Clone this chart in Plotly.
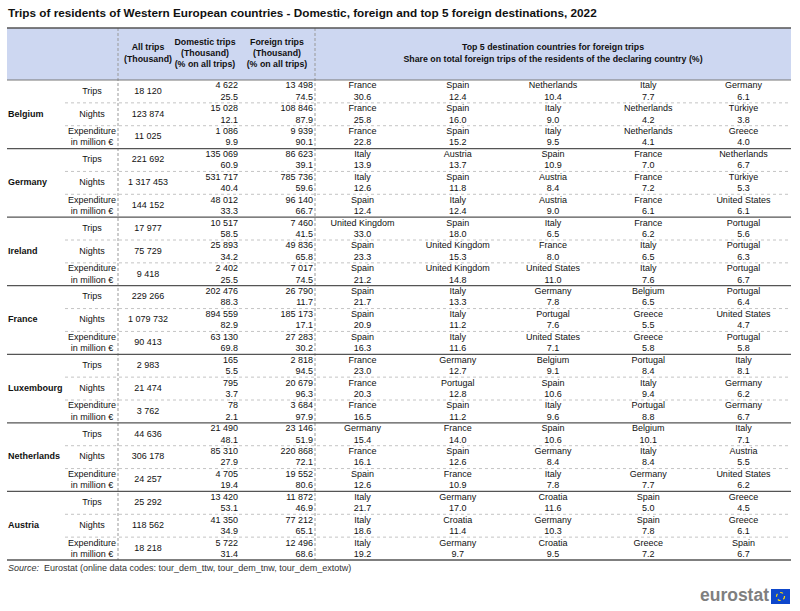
import plotly.graph_objects as go

# ---------------- data ----------------
countries = ["Belgium", "Germany", "Ireland", "France", "Luxembourg", "Netherlands", "Austria"]
indicators = ["Trips", "Nights", "Expenditure<br>in million €"]

all_trips = [
    18120, 123874, 11025,
    221692, 1317453, 144152,
    17977, 75729, 9418,
    229266, 1079732, 90413,
    2983, 21474, 3762,
    44636, 306178, 24257,
    25292, 118562, 18218,
]
domestic_thousand = [
    4622, 15028, 1086,
    135069, 531717, 48012,
    10517, 25893, 2402,
    202476, 894559, 63130,
    165, 795, 78,
    21490, 85310, 4705,
    13420, 41350, 5722,
]
domestic_pct = [
    25.5, 12.1, 9.9,
    60.9, 40.4, 33.3,
    58.5, 34.2, 25.5,
    88.3, 82.9, 69.8,
    5.5, 3.7, 2.1,
    48.1, 27.9, 19.4,
    53.1, 34.9, 31.4,
]
foreign_thousand = [
    13498, 108846, 9939,
    86623, 785736, 96140,
    7460, 49836, 7017,
    26790, 185173, 27283,
    2818, 20679, 3684,
    23146, 220868, 19552,
    11872, 77212, 12496,
]
foreign_pct = [
    74.5, 87.9, 90.1,
    39.1, 59.6, 66.7,
    41.5, 65.8, 74.5,
    11.7, 17.1, 30.2,
    94.5, 96.3, 97.9,
    51.9, 72.1, 80.6,
    46.9, 65.1, 68.6,
]
dest_names = [
    ["France", "Spain", "Netherlands", "Italy", "Germany"],
    ["France", "Spain", "Italy", "Netherlands", "Türkiye"],
    ["France", "Spain", "Italy", "Netherlands", "Greece"],
    ["Italy", "Austria", "Spain", "France", "Netherlands"],
    ["Italy", "Spain", "Austria", "France", "Türkiye"],
    ["Spain", "Italy", "Austria", "France", "United States"],
    ["United Kingdom", "Spain", "Italy", "France", "Portugal"],
    ["Spain", "United Kingdom", "France", "Italy", "Portugal"],
    ["Spain", "United Kingdom", "United States", "Italy", "Portugal"],
    ["Spain", "Italy", "Germany", "Belgium", "Portugal"],
    ["Spain", "Italy", "Portugal", "Greece", "United States"],
    ["Spain", "Italy", "United States", "Greece", "Portugal"],
    ["France", "Germany", "Belgium", "Portugal", "Italy"],
    ["France", "Portugal", "Spain", "Italy", "Germany"],
    ["France", "Spain", "Italy", "Portugal", "Germany"],
    ["Germany", "France", "Spain", "Belgium", "Italy"],
    ["France", "Spain", "Germany", "Italy", "Austria"],
    ["Spain", "France", "Italy", "Germany", "United States"],
    ["Italy", "Germany", "Croatia", "Spain", "Greece"],
    ["Italy", "Croatia", "Germany", "Spain", "Greece"],
    ["Italy", "Germany", "Croatia", "Greece", "Spain"],
]
dest_shares = [
    [30.6, 12.4, 10.4, 7.7, 6.1],
    [25.8, 16.0, 9.0, 4.2, 3.8],
    [22.8, 15.2, 9.5, 4.1, 4.0],
    [13.9, 13.7, 10.9, 7.0, 6.7],
    [12.6, 11.8, 8.4, 7.2, 5.3],
    [12.4, 12.4, 9.0, 6.1, 6.1],
    [33.0, 18.0, 6.5, 6.2, 5.6],
    [23.3, 15.3, 8.0, 6.5, 6.3],
    [21.2, 14.8, 11.0, 7.6, 6.7],
    [21.7, 13.3, 7.8, 6.5, 6.4],
    [20.9, 11.2, 7.6, 5.5, 4.7],
    [16.3, 11.6, 7.1, 5.8, 5.8],
    [23.0, 12.7, 9.1, 8.4, 8.1],
    [20.3, 12.8, 10.6, 9.4, 6.2],
    [16.5, 11.2, 9.6, 8.8, 6.7],
    [15.4, 14.0, 10.6, 10.1, 7.1],
    [16.1, 12.6, 8.4, 8.4, 5.5],
    [12.6, 10.9, 7.8, 7.7, 6.2],
    [21.7, 17.0, 11.6, 5.0, 4.5],
    [18.6, 11.4, 10.3, 7.8, 6.1],
    [19.2, 9.7, 9.5, 7.2, 6.7],
]

title = "Trips of residents of Western European countries - Domestic, foreign and top 5 foreign destinations, 2022"
source_note = "<i>Source:</i>  Eurostat (online data codes: tour_dem_ttw, tour_dem_tnw, tour_dem_extotw)"

# ---------------- layout constants ----------------
W, H = 800, 611
FONT = "Liberation Sans, Arial, sans-serif"
TXT = "#111111"
FS = 9
X_L, X_R = 7, 791
HEAD_TOP, HEAD_BOT = 28, 80
ROW_H = (560 - HEAD_BOT) / 21.0
X_COUNTRY = 8
X_IND = 92
X_ALL = 148
X_DOM_R = 238
X_FOR_R = 313
X_DASH1, X_DASH2 = 118, 315
DEST_X = [X_DASH2 + (X_R - X_DASH2) / 5.0 * (k + 0.5) for k in range(5)]


def fmt_int(v):
    return f"{v:,}".replace(",", " ")


def fmt_pct(v):
    return f"{v:.1f}"


n_rows = len(all_trips)
row_top = [HEAD_BOT + i * ROW_H for i in range(n_rows)]
y_mid = [t + ROW_H / 2 for t in row_top]
y_l1 = [t + 6.2 for t in row_top]
y_l2 = [t + 17.4 for t in row_top]

fig = go.Figure()


def add_text(xs, ys, texts, pos, size=FS, color=TXT, bold=False):
    fig.add_trace(go.Scatter(
        x=xs, y=ys, text=[f"<b>{t}</b>" if bold else t for t in texts],
        mode="text", textposition=pos, hoverinfo="skip", showlegend=False,
        textfont=dict(family=FONT, size=size, color=color),
    ))


# header background
fig.add_shape(type="rect", x0=X_L, x1=X_R, y0=HEAD_TOP, y1=HEAD_BOT,
              fillcolor="#cdd7f1", line=dict(width=0), layer="below")

# header texts
HFS = 8.8
add_text([X_ALL, X_ALL], [48, 60], ["All trips", "(Thousand)"], "middle center", size=HFS, bold=True)
hx_dom = 205
hx_for = 277
add_text([hx_dom] * 3, [43, 54, 65], ["Domestic trips", "(Thousand)", "(% on all trips)"], "middle center", size=HFS, bold=True)
add_text([hx_for] * 3, [43, 54, 65], ["Foreign trips", "(Thousand)", "(% on all trips)"], "middle center", size=HFS, bold=True)
hx_dest = (X_DASH2 + X_R) / 2
add_text([hx_dest, hx_dest], [48, 60],
         ["Top 5 destination countries for foreign trips",
          "Share on total foreign trips of the residents of the declaring country (%)"],
         "middle center", size=HFS, bold=True)

# country labels
cy = [HEAD_BOT + (3 * k + 1.5) * ROW_H for k in range(len(countries))]
add_text([X_COUNTRY] * len(countries), cy, countries, "middle right", bold=True)

# indicator labels
ind_single_y, ind_single_t = [], []
ind_two_y1, ind_two_y2 = [], []
for i in range(n_rows):
    lab = indicators[i % 3]
    if "<br>" in lab:
        ind_two_y1.append(y_l1[i])
        ind_two_y2.append(y_l2[i])
    else:
        ind_single_y.append(y_mid[i])
        ind_single_t.append(lab)
add_text([X_IND] * len(ind_single_y), ind_single_y, ind_single_t, "middle center")
l1, l2 = indicators[2].split("<br>")
add_text([X_IND] * len(ind_two_y1), ind_two_y1, [l1] * len(ind_two_y1), "middle center")
add_text([X_IND] * len(ind_two_y2), ind_two_y2, [l2] * len(ind_two_y2), "middle center")

# all trips
add_text([X_ALL] * n_rows, y_mid, [fmt_int(v) for v in all_trips], "middle center")
# domestic
add_text([X_DOM_R] * n_rows, y_l1, [fmt_int(v) for v in domestic_thousand], "middle left")
add_text([X_DOM_R] * n_rows, y_l2, [fmt_pct(v) for v in domestic_pct], "middle left")
# foreign
add_text([X_FOR_R] * n_rows, y_l1, [fmt_int(v) for v in foreign_thousand], "middle left")
add_text([X_FOR_R] * n_rows, y_l2, [fmt_pct(v) for v in foreign_pct], "middle left")
# destinations
for k in range(5):
    add_text([DEST_X[k]] * n_rows, y_l1, [dest_names[i][k] for i in range(n_rows)], "middle center")
    add_text([DEST_X[k]] * n_rows, y_l2, [fmt_pct(dest_shares[i][k]) for i in range(n_rows)], "middle center")

# lines
for i in range(n_rows):
    if i % 3 != 0:
        fig.add_shape(type="line", x0=65, x1=X_R, y0=row_top[i], y1=row_top[i],
                      line=dict(color="#c4c4c4", width=1, dash="dot"))
for xd in (X_DASH1, X_DASH2):
    fig.add_shape(type="line", x0=xd, x1=xd, y0=HEAD_TOP, y1=560,
                  line=dict(color="#999999", width=1, dash="3px,2px"))
for k in range(1, len(countries)):
    yy = HEAD_BOT + 3 * k * ROW_H
    fig.add_shape(type="line", x0=X_L, x1=X_R, y0=yy, y1=yy, line=dict(color="#555555", width=1.3))
fig.add_shape(type="line", x0=X_L, x1=X_R, y0=HEAD_TOP, y1=HEAD_TOP, line=dict(color="#555555", width=1.3))
fig.add_shape(type="line", x0=X_L, x1=X_R, y0=HEAD_BOT, y1=HEAD_BOT, line=dict(color="#777777", width=1))
fig.add_shape(type="line", x0=X_L, x1=X_R, y0=560, y1=560, line=dict(color="#555555", width=1.3))

# title & source
add_text([X_L + 1], [14], [title], "middle right", size=11.75, color="#111111", bold=True)
add_text([X_L + 1], [569], [source_note], "middle right", size=9, color="#333333")

# eurostat logo
add_text([769], [597], ["eurostat"], "middle left", size=17.5, color="#7f7f7f", bold=True)
fig.add_shape(type="rect", x0=771, x1=790, y0=589, y1=604, fillcolor="#0e47cb", line=dict(width=0))
fig.add_shape(type="circle", x0=776.5, x1=784.5, y0=592.5, y1=600.5,
              line=dict(color="#ffdd00", width=1.2, dash="dot"))

fig.update_layout(
    width=W, height=H, margin=dict(l=0, r=0, t=0, b=0),
    paper_bgcolor="white", plot_bgcolor="white",
    xaxis=dict(range=[0, W], visible=False, fixedrange=True),
    yaxis=dict(range=[H, 0], visible=False, fixedrange=True),
    showlegend=False,
)

post = ("document.documentElement.style.margin='0';document.body.style.margin='0';"
        "document.body.style.padding='0';document.documentElement.style.overflow='hidden';"
        "document.body.style.overflow='hidden';"
        "var gd=document.getElementById('{plot_id}');"
        "Plotly.relayout(gd,{width:800,height:611});")
fig.write_html("out.html", config={"responsive": False, "displayModeBar": False}, post_script=post)
